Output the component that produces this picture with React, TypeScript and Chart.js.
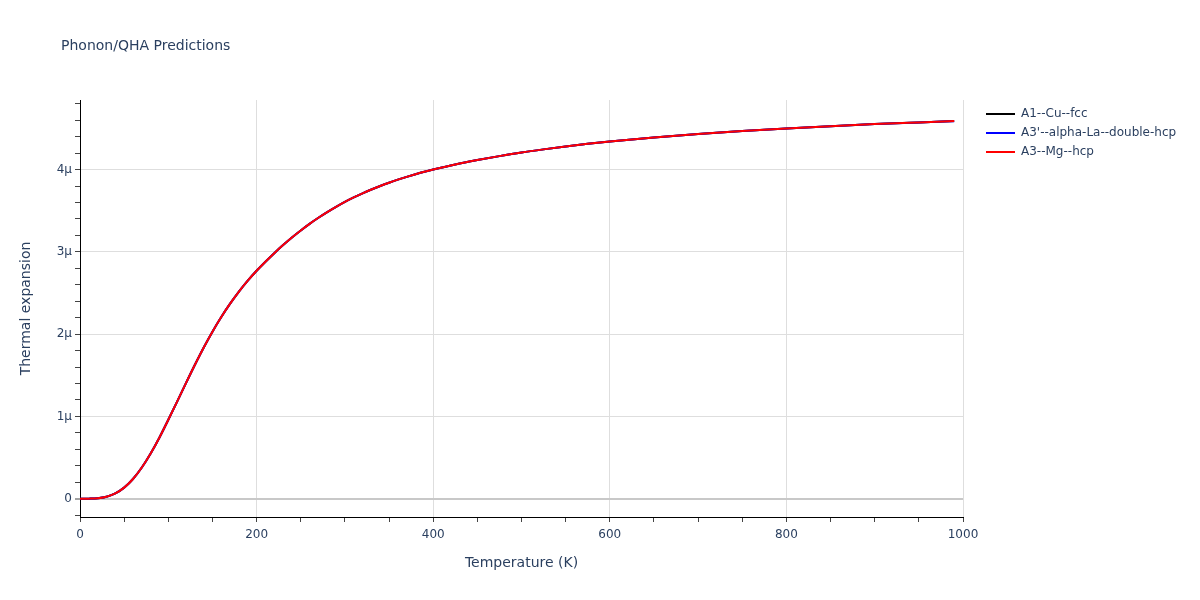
import React, { useEffect, useRef } from "react";
import { Chart, registerables } from "chart.js";

Chart.register(...registerables);

const chartTitle = "Phonon/QHA Predictions";
const xAxisTitle = "Temperature (K)";
const yAxisTitle = "Thermal expansion";

const seriesNames = ["A1--Cu--fcc", "A3'--alpha-La--double-hcp", "A3--Mg--hcp"];
const seriesColors = ["#000000", "#0000ff", "#ff0000"];

const temperatures = [
  0, 10, 20, 30, 40, 50, 60, 70, 80, 90, 100, 110, 120, 130, 140, 150, 160, 170, 180, 190, 200,
  210, 220, 230, 240, 250, 260, 270, 280, 290, 300, 310, 320, 330, 340, 350, 360, 370, 380, 390,
  400, 425, 450, 475, 500, 525, 550, 575, 600, 650, 700, 750, 800, 850, 900, 950, 990,
];

// thermal expansion in units of 1e-6 (μ)
const cuValues = [
  0, 0.001, 0.006, 0.025, 0.065, 0.135, 0.24, 0.38, 0.55, 0.745, 0.96, 1.18, 1.405, 1.625, 1.835,
  2.03, 2.208, 2.37, 2.517, 2.65, 2.77, 2.88, 2.984, 3.082, 3.174, 3.26, 3.34, 3.414, 3.483, 3.547,
  3.607, 3.661, 3.711, 3.757, 3.8, 3.84, 3.877, 3.911, 3.943, 3.973, 4.0, 4.062, 4.115, 4.163,
  4.207, 4.245, 4.28, 4.312, 4.341, 4.39, 4.432, 4.468, 4.5, 4.527, 4.552, 4.573, 4.589,
];
const laValues = [
  0, 0.001, 0.006, 0.025, 0.065, 0.135, 0.24, 0.38, 0.55, 0.745, 0.96, 1.18, 1.405, 1.625, 1.835,
  2.03, 2.208, 2.37, 2.517, 2.65, 2.77, 2.88, 2.984, 3.082, 3.174, 3.26, 3.34, 3.414, 3.483, 3.547,
  3.607, 3.661, 3.711, 3.757, 3.8, 3.84, 3.877, 3.911, 3.943, 3.973, 4.0, 4.062, 4.115, 4.163,
  4.207, 4.245, 4.28, 4.312, 4.341, 4.39, 4.432, 4.468, 4.5, 4.527, 4.552, 4.573, 4.587,
];
const mgValues = [
  0, 0.001, 0.006, 0.025, 0.065, 0.135, 0.24, 0.38, 0.55, 0.745, 0.96, 1.18, 1.405, 1.625, 1.835,
  2.03, 2.208, 2.37, 2.517, 2.65, 2.77, 2.88, 2.984, 3.082, 3.174, 3.26, 3.34, 3.414, 3.483, 3.547,
  3.607, 3.661, 3.711, 3.757, 3.8, 3.84, 3.877, 3.911, 3.943, 3.973, 4.0, 4.062, 4.115, 4.163,
  4.207, 4.245, 4.28, 4.312, 4.341, 4.39, 4.432, 4.468, 4.5, 4.527, 4.552, 4.573, 4.589,
];

const xMin = 0;
const xMax = 1000;
const xLabelStep = 200;
const xMinorStep = 50;
const yMin = -0.222;
const yMax = 4.845;
const yMinorStep = 0.2;
const yMajorTicks = [0, 1, 2, 3, 4];
const yTickLabels = ["0", "1μ", "2μ", "3μ", "4μ"];

const FONT = '"DejaVu Sans", Verdana, sans-serif';
const TEXT_COLOR = "#2a3f5f";
const GRID_COLOR = "#dedede";
const ZERO_COLOR = "#c8c8c8";

const near = (a: number, b: number) => Math.abs(a - b) < 1e-6;

const overlayPlugin = {
  id: "overlay",
  afterDraw(chart: any) {
    const ctx = chart.ctx;
    const area = chart.chartArea;
    ctx.save();
    ctx.fillStyle = TEXT_COLOR;
    // title
    ctx.font = `14px ${FONT}`;
    ctx.textAlign = "left";
    ctx.textBaseline = "alphabetic";
    ctx.fillText(chartTitle, 61, 50);
    // x axis title
    ctx.font = `14px ${FONT}`;
    ctx.textAlign = "center";
    ctx.textBaseline = "middle";
    ctx.fillText(xAxisTitle, (area.left + area.right) / 2, 563);
    // y axis title
    ctx.save();
    ctx.translate(26, (area.top + area.bottom) / 2);
    ctx.rotate(-Math.PI / 2);
    ctx.fillText(yAxisTitle, 0, 0);
    ctx.restore();
    // legend
    ctx.font = `12px ${FONT}`;
    ctx.textAlign = "left";
    chart.data.datasets.forEach((ds: any, i: number) => {
      const y = 114 + i * 19;
      ctx.strokeStyle = ds.borderColor;
      ctx.lineWidth = 2;
      ctx.beginPath();
      ctx.moveTo(986, y);
      ctx.lineTo(1015, y);
      ctx.stroke();
      ctx.fillStyle = TEXT_COLOR;
      ctx.fillText(ds.label, 1021, y);
    });
    ctx.restore();
  },
};

export default function App() {
  const canvasRef = useRef<HTMLCanvasElement | null>(null);

  useEffect(() => {
    document.body.style.margin = "0";
    const canvas = canvasRef.current;
    if (!canvas) return;
    const seriesValues = [cuValues, laValues, mgValues];
    const datasets = seriesValues.map((vals, i) => ({
      label: seriesNames[i],
      data: temperatures.map((t, j) => ({ x: t, y: vals[j] })),
      borderColor: seriesColors[i],
      backgroundColor: seriesColors[i],
      borderWidth: 2,
      pointRadius: 0,
      fill: false,
      cubicInterpolationMode: "monotone" as const,
      order: 2 - i,
    }));

    const chart = new Chart(canvas, {
      type: "line",
      data: { datasets },
      options: {
        animation: false,
        responsive: false,
        devicePixelRatio: 1,
        layout: { padding: { left: 0, top: 100, right: 237, bottom: 0 } },
        plugins: {
          legend: { display: false },
          title: { display: false },
          tooltip: { enabled: false },
        },
        scales: {
          x: {
            type: "linear",
            min: xMin,
            max: xMax,
            afterFit: (scale: any) => {
              scale.height = 83;
            },
            afterBuildTicks: (scale: any) => {
              const t = [];
              for (let v = xMin; v <= xMax + 1e-9; v += xMinorStep) t.push({ value: v });
              scale.ticks = t;
            },
            border: { display: true, color: "#000000", width: 1 },
            grid: {
              color: (c: any) => {
                const v = c.tick ? c.tick.value : NaN;
                return v % xLabelStep === 0 && v !== 0 ? GRID_COLOR : "rgba(0,0,0,0)";
              },
              tickColor: "#444444",
              tickLength: 5,
              tickWidth: 1,
              lineWidth: 1,
            },
            ticks: {
              autoSkip: false,
              maxRotation: 0,
              padding: 6,
              color: TEXT_COLOR,
              font: { family: FONT, size: 12 },
              callback: (v: any) => (Number(v) % xLabelStep === 0 ? String(v) : ""),
            },
          },
          y: {
            type: "linear",
            min: yMin,
            max: yMax,
            afterFit: (scale: any) => {
              scale.width = 80;
            },
            afterBuildTicks: (scale: any) => {
              const t = [];
              for (let k = -1; k <= 24; k++) {
                const v = Math.round(k * yMinorStep * 10) / 10;
                if (v >= yMin && v <= yMax) t.push({ value: v });
              }
              scale.ticks = t;
            },
            border: { display: true, color: "#000000", width: 1 },
            grid: {
              color: (c: any) => {
                const v = c.tick ? c.tick.value : NaN;
                if (near(v, 0)) return ZERO_COLOR;
                return yMajorTicks.some((m) => near(m, v)) ? GRID_COLOR : "rgba(0,0,0,0)";
              },
              lineWidth: (c: any) => (c.tick && near(c.tick.value, 0) ? 2 : 1),
              tickColor: "#444444",
              tickLength: 5,
              tickWidth: 1,
            },
            ticks: {
              autoSkip: false,
              padding: 3,
              color: TEXT_COLOR,
              font: { family: FONT, size: 12 },
              callback: (v: any) => {
                const idx = yMajorTicks.findIndex((m) => near(m, Number(v)));
                return idx >= 0 ? yTickLabels[idx] : "";
              },
            },
          },
        },
      },
      plugins: [overlayPlugin],
    });
    return () => chart.destroy();
  }, []);

  return (
    <div style={{ width: 1200, height: 600, background: "#ffffff" }}>
      <canvas ref={canvasRef} width={1200} height={600} />
    </div>
  );
}
